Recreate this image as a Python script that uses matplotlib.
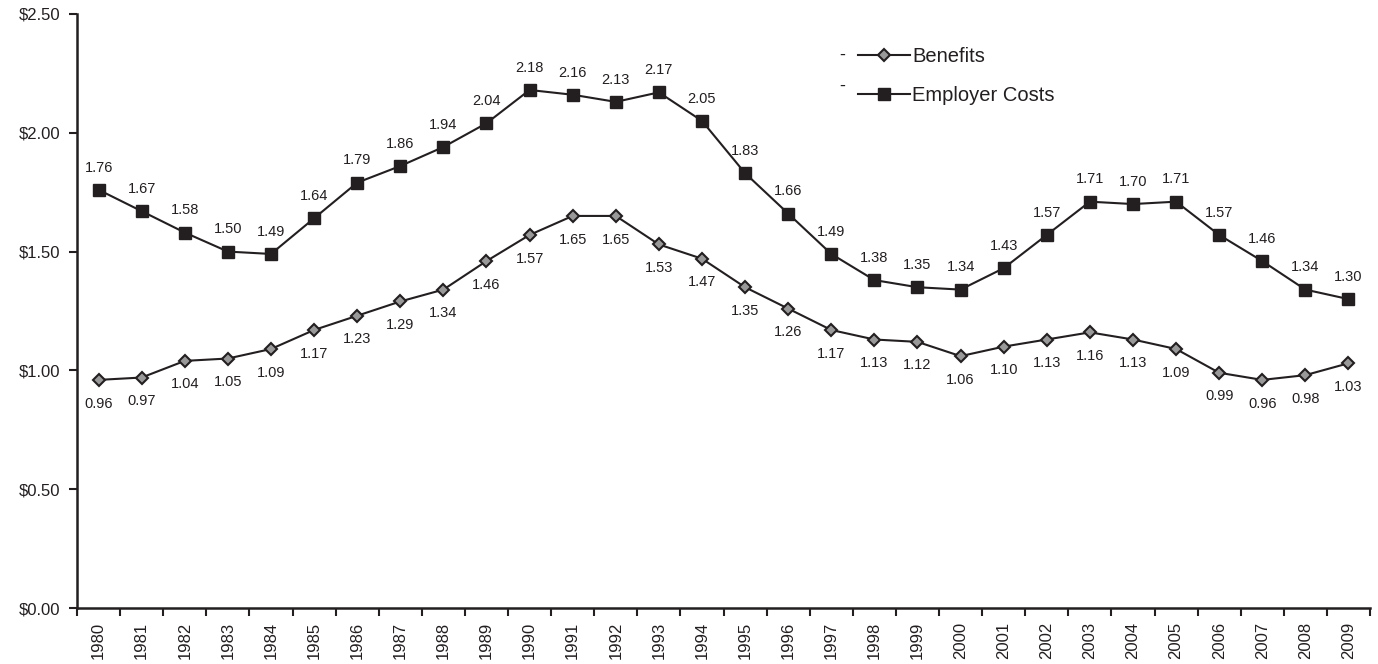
import numpy as np
import matplotlib
matplotlib.use("Agg")
import matplotlib.pyplot as plt
from matplotlib.lines import Line2D

plt.rcParams['font.family'] = ['Liberation Sans', 'DejaVu Sans']

years = [str(y) for y in range(1980, 2010)]
benefits = [0.96, 0.97, 1.04, 1.05, 1.09, 1.17, 1.23, 1.29, 1.34, 1.46,
            1.57, 1.65, 1.65, 1.53, 1.47, 1.35, 1.26, 1.17, 1.13, 1.12,
            1.06, 1.10, 1.13, 1.16, 1.13, 1.09, 0.99, 0.96, 0.98, 1.03]
employer = [1.76, 1.67, 1.58, 1.50, 1.49, 1.64, 1.79, 1.86, 1.94, 2.04,
            2.18, 2.16, 2.13, 2.17, 2.05, 1.83, 1.66, 1.49, 1.38, 1.35,
            1.34, 1.43, 1.57, 1.71, 1.70, 1.71, 1.57, 1.46, 1.34, 1.30]
yticks = [0.0, 0.5, 1.0, 1.5, 2.0, 2.5]

ink = '#231f20'
fig = plt.figure(figsize=(13.78, 6.64), dpi=100)
ax = fig.add_axes([0.0559, 0.0843, 0.9383, 0.8947])

x = np.arange(len(years))
ax.plot(x, employer, color=ink, lw=1.5, marker='s', ms=9,
        mfc=ink, mec=ink, zorder=3)
ax.plot(x, benefits, color=ink, lw=1.5, marker='D', ms=6.5,
        mfc='#999999', mec=ink, mew=1.5, zorder=3)

for xi, v in zip(x, employer):
    ax.annotate(f'{v:.2f}', (xi, v), xytext=(0, 16), textcoords='offset points',
                ha='center', va='center', fontsize=10.5, color=ink)
for xi, v in zip(x, benefits):
    ax.annotate(f'{v:.2f}', (xi, v), xytext=(0, -17), textcoords='offset points',
                ha='center', va='center', fontsize=10.5, color=ink)

ax.set_xlim(-0.5, len(years) - 0.5)
ax.set_ylim(0, 2.5)
ax.set_yticks(yticks)
ax.set_yticklabels([f'${v:.2f}' for v in yticks], fontsize=12, color=ink)
ax.set_xticks(np.arange(len(years) + 1) - 0.5)
ax.set_xticklabels([])
ax.set_xticks(x, minor=True)
ax.set_xticklabels(years, minor=True, rotation=90, fontsize=12, color=ink)
ax.tick_params(axis='x', which='minor', length=0, pad=10)
ax.tick_params(axis='x', which='major', direction='out', length=6, width=1.5, color=ink)
ax.tick_params(axis='y', direction='out', length=6, width=1.5, color=ink, pad=6)
for s in ['top', 'right']:
    ax.spines[s].set_visible(False)
for s in ['left', 'bottom']:
    ax.spines[s].set_linewidth(1.8)
    ax.spines[s].set_color(ink)

handles = [
    Line2D([], [], color=ink, lw=1.5, marker='D', ms=6.5, mfc='#999999', mec=ink, mew=1.5),
    Line2D([], [], color=ink, lw=1.5, marker='s', ms=9, mfc=ink, mec=ink),
]
leg = ax.legend(handles, ['Benefits', 'Employer Costs'], loc='upper left',
                bbox_to_anchor=(0.59, 0.975), frameon=False, fontsize=14.5,
                handlelength=2.6, handletextpad=0.1, labelspacing=1.0,
                labelcolor=ink)
fig.text(0.611, 0.916, '-', fontsize=13, color=ink, ha='center', va='center')
fig.text(0.611, 0.870, '-', fontsize=13, color=ink, ha='center', va='center')

fig.savefig('out.png', dpi=100)
